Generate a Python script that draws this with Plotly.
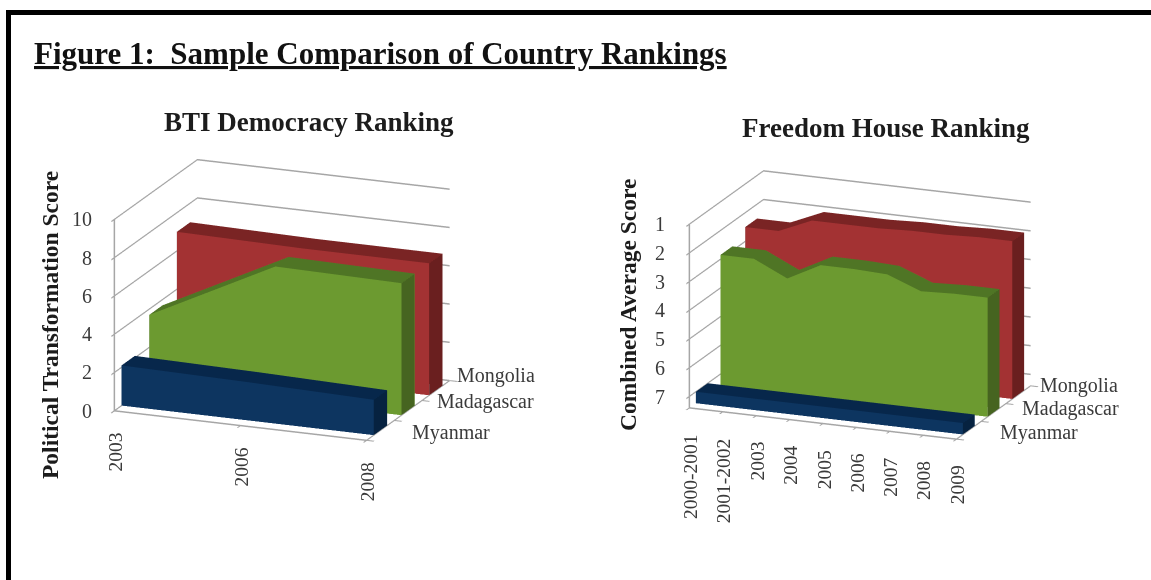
import plotly.graph_objects as go

series_names = ["Myanmar", "Madagascar", "Mongolia"]
bti_years = ["2003", "2006", "2008"]
bti_myanmar = [2.1, 2.0, 1.85]
bti_madagascar = [3.7, 7.0, 6.9]
bti_mongolia = [7.0, 6.9, 6.9]
bti_ticks = [0, 2, 4, 6, 8, 10]

fh_years = ["2000-2001", "2001-2002", "2003", "2004", "2005", "2006", "2007", "2008", "2009"]
fh_myanmar = [7, 7, 7, 7, 7, 7, 7, 7, 7]
fh_madagascar = [2.85, 2.85, 3.4, 2.8, 2.8, 2.85, 3.3, 3.25, 3.25]
fh_mongolia = [2.5, 2.5, 2.0, 2.0, 2.0, 1.95, 1.95, 1.9, 1.9]
fh_ticks = [1, 2, 3, 4, 5, 6, 7]

palette = {
    "Myanmar": ("#0D3560", "#07274B", "#062240"),
    "Madagascar": ("#6C9A30", "#4F7525", "#466420"),
    "Mongolia": ("#A33233", "#7A2424", "#6A1F1F"),
}
HALF = 0.24
FONT = "Liberation Serif"
INK = "#3a3a3a"
W, H = 1151, 580


def prism(name, idx, values, base, scene):
    n = len(values)
    y0, y1 = idx + 0.5 - HALF, idx + 0.5 + HALF
    front, top, side = palette[name]
    xs, ys, zs = [], [], []
    for i, v in enumerate(values):
        xs += [i, i, i, i]
        ys += [y0, y0, y1, y1]
        zs += [base, v, v, base]
    I, J, K, colors = [], [], [], []

    def quad(a, b, c, d, col):
        I.extend([a, a]); J.extend([b, c]); K.extend([c, d]); colors.extend([col, col])

    for i in range(n - 1):
        a, b = 4 * i, 4 * (i + 1)
        quad(a, b, b + 1, a + 1, front)
        quad(a + 1, b + 1, b + 2, a + 2, top)
        quad(a + 3, b + 3, b + 2, a + 2, front)
    quad(0, 1, 2, 3, side)
    e = 4 * (n - 1)
    quad(e, e + 1, e + 2, e + 3, side)
    return go.Mesh3d(x=xs, y=ys, z=zs, i=I, j=J, k=K, facecolor=colors, flatshading=True,
                     lighting=dict(ambient=1, diffuse=0, specular=0, roughness=1, fresnel=0),
                     hoverinfo="skip", showscale=False, scene=scene, name=name)


def note(x, y, z, text, **kw):
    return dict(x=x, y=y, z=z, text=text, showarrow=False,
                font=dict(family=FONT, size=kw.pop("size", 15), color=kw.pop("color", INK)), **kw)


def scene_layout(domain, years, ticks, zrange, eye, aspect, cat_shift, tick_shift, year_shift):
    axis = dict(showbackground=False, showspikes=False, zeroline=False, title="", showticklabels=False,
                linecolor="#a6a6a6", linewidth=3, showline=True, gridcolor="#a6a6a6", gridwidth=3,
                ticks="outside", ticklen=8, tickcolor="#a6a6a6", tickwidth=3)
    n = len(years)
    ann = []
    for i, lab in enumerate(years):
        ann.append(note(i, 0, zrange[0], lab, textangle=-90, yanchor="top", yshift=year_shift, xshift=1, size=19.5))
    for t in ticks:
        ann.append(note(0, 0, t, str(t), xanchor="right", xshift=tick_shift, size=20))
    for i, s in enumerate(series_names):
        ann.append(note(n - 1, i + 0.5, zrange[0], s, xanchor="left", xshift=24 + cat_shift[i][0],
                        yshift=cat_shift[i][1], size=20))
    return dict(
        domain=domain,
        xaxis=dict(axis, range=[0, n - 1], tickvals=list(range(n)), showgrid=False),
        yaxis=dict(axis, range=[0, 3], tickvals=[0, 1, 2, 3], showgrid=False),
        zaxis=dict(axis, range=zrange, tickvals=ticks, showgrid=True),
        aspectmode="manual", aspectratio=aspect,
        camera=dict(eye=eye, center=dict(x=0, y=0, z=0), up=dict(x=0, y=0, z=1),
                    projection=dict(type="orthographic")),
        annotations=ann,
    )


fig = go.Figure()
for idx, (name, vals) in enumerate(zip(series_names, [bti_myanmar, bti_madagascar, bti_mongolia])):
    fig.add_trace(prism(name, idx, vals, 0, "scene"))
for idx, (name, vals) in enumerate(zip(series_names, [fh_myanmar, fh_madagascar, fh_mongolia])):
    fig.add_trace(prism(name, idx, vals, 7.4, "scene2"))


def px(x, y, text, size, angle=0, anchor="center", color="#1c1c1c"):
    return dict(xref="paper", yref="paper", x=x / W, y=1 - y / H, xanchor=anchor, yanchor="middle",
                showarrow=False, text=text, textangle=angle, font=dict(family=FONT, size=size, color=color))


EYE = dict(x=0.698, y=-1.73, z=0.566)
fig.update_layout(
    width=W, height=H, margin=dict(l=0, r=0, t=0, b=0), paper_bgcolor="white", showlegend=False,
    scene=scene_layout(dict(x=[0.0365, 0.4535], y=[0.138, 0.828]), bti_years, bti_ticks, [0, 10],
                       EYE, dict(x=1.36, y=1.11, z=1.0),
                       cat_shift=[(6, -2), (3, 9), (-5, 15)], tick_shift=-20, year_shift=-20),
    scene2=scene_layout(dict(x=[0.5387, 0.9557], y=[0.129, 0.819]), fh_years, fh_ticks, [7.4, 1],
                        EYE, dict(x=1.44, y=0.99, z=0.96),
                        cat_shift=[(5, -2), (2, 4), (-4, 9)], tick_shift=-22, year_shift=-24),
    shapes=[
        dict(type="line", xref="paper", yref="paper", x0=6 / W, x1=1, y0=1 - 12.5 / H, y1=1 - 12.5 / H,
             line=dict(color="black", width=5)),
        dict(type="line", xref="paper", yref="paper", x0=8.5 / W, x1=8.5 / W, y0=0, y1=1 - 10 / H,
             line=dict(color="black", width=5)),
    ],
    annotations=[
        px(32, 54, "<b><u>Figure 1:  Sample Comparison of Country Rankings</u></b>", 31, anchor="left", color="#111"),
        px(309, 122, "<b>BTI Democracy Ranking</b>", 27),
        px(886, 128, "<b>Freedom House Ranking</b>", 27),
        px(50, 325, "<b>Political Transformation Score</b>", 23.5, angle=-90),
        px(628, 305, "<b>Combined Average Score</b>", 23.5, angle=-90),
    ],
)
fig.write_html("out.html", config=dict(displayModeBar=False),
               post_script="document.body.style.margin='0';document.body.style.overflow='hidden';")
